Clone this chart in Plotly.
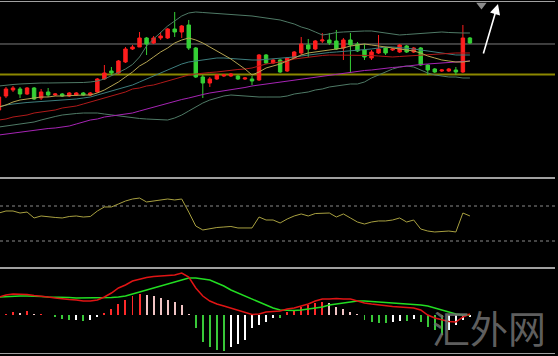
import plotly.graph_objects as go

# ---------------- data (price units) ----------------
open_ = [90,104,110,111,106,112,102,108,105,106,104,105,107,105,108,121,129,127,138,151,
         153,162,157,162,162,171,168,175,152,123,117,121,124,124,124,121,121,120,145,137,
         140,129,142,147,155,151,159,160,159,152,160,156,150,142,147,152,150,148,154,148,
         152,135,131,129,129,130,128,162]
high = [105,113,114,113,113,113,111,112,107,107,108,108,108,108,122,135,133,140,153,155,
        168,163,164,168,172,188,175,180,153,125,123,126,126,127,125,123,124,146,146,141,
        141,143,149,163,161,160,167,167,170,162,167,158,156,150,165,153,152,156,155,153,
        153,136,132,131,132,133,175,163]
low = [88,102,108,102,105,100,100,103,104,103,103,104,104,104,107,120,125,126,137,150,
       153,145,156,160,161,163,162,150,122,102,113,120,123,123,120,120,115,119,136,136,
       127,128,141,145,143,150,157,155,150,140,127,148,140,140,146,145,149,147,147,147,
       134,125,127,128,128,125,127,156]
close = [103,111,112,106,112,101,108,105,106,104,107,107,105,107,121,127,127,139,151,153,
         162,156,162,164,171,168,174,152,123,117,121,125,125,126,121,122,119,145,137,140,
         128,142,148,156,151,159,160,157,151,160,155,149,143,148,151,147,151,155,148,152,
         135,130,128,130,131,128,162,157]

bb_upper = [114,115,115.5,116,116.5,117,117,117,117,117,117,117,117.5,118,119,121,124,127.5,131,135.5,
            143,154,161,168,174,179,184,187,188,187.5,187,186.5,186,185.5,185,185,184,183,182,181,
            180,178,176,173,171,168,165,166,167.5,168,168.5,169,169,169,168,167,166,165,165.5,166,
            166.5,167,167.5,168,167.5,167,167,167]
bb_mid = [93,95,96,97,97.5,98,98.5,99,99.5,100,100,101,102,103,105,107,109,111,113,115,
          118,121,124,127,130,133,136,138,139,140,141,142,142,141.5,141,140,140,140,140.5,141,
          142,142,143,144,145,146,147,147.5,148,148.5,149,149.5,150,151,152,153,153,152.5,152,151,
          150,149,148,147,146,145,145,145]
bb_lower = [73,74,75,76,77,78,80,82,83.5,85,86,86.5,87,87,87,86,85,84,83,82,
            81.5,81,80.5,80,80,82,85,89,93,97,100,102,104,105,104.5,104,103,103,103,103,
            103,104,106,107,108,110,111,113,114,115,116,116,118,122,125,128,131,133,134,133,
            130,127,125,124,123,123,122,122]
ma_red = [80,81,83,84,85,87,88,89,90,92,93,94,96,98,100,102,104,106,108,111,
          112,114,115,117,119,121,123,125,126,127,127.5,128,129,130,130.5,131,132,134,136,137,
          138,139,141,142,143,144,144.5,145,145,145,145,145,145,144.5,144,143.5,143,143.5,144,144.5,
          145,145.5,146,146,146.5,147,147,147]
ma_purple = [65,66,67,68,69,70,71,71.5,72,73,74,76,78,80,81,83,84,85,86,87,
             89,91,93,95,97,99,100.5,102,104,105.5,107,108,109,110,111,112.5,114,115,116,117,
             118,119,120,121,122,123,124,125,126,127,128,129,129.5,130,131,132,132.5,133,134,135,
             135.5,136,136.5,137,137.5,138,138,139]
ma_yellow = [93,95,98,100,101,102,103,103,104,104,104.5,105,105,105,107,110,114,118,123,128,
             134,138,143,148,152,157,160,162,160,157,153,149,145,141,136,131,125,128,132,134,
             136,139,142,145,147,148,149,150,151,152,154,155,156,155,154,153,152,151,150,149,
             147,144,142,140,139,138,138,139]

rsi = [62,64.3,64.3,62,63.1,56.3,58.6,57.4,56.9,56.3,58,58.6,57.4,58,64.3,68.9,68.9,72.3,75.7,78,
       79.1,74.6,75.7,76.9,78,76.9,78,63.1,47.1,42.6,44.3,45.4,46,46.6,44.9,44.9,44.9,57.4,54,54,
       50.6,55.1,58.6,60.9,58.6,61.4,62,62,57.4,60.9,56.3,51.7,49.4,51.7,52.9,52.9,54,56.3,51.7,54,
       43.7,41.4,40.3,40.9,41.4,40.3,62,58.6]
rsi_levels = [70, 30]

macd_dif = [18,20,21,21,20.5,19.5,19,18,17,16,15.5,15,14,14,15,18,22,27,30,34,
            36,37.5,38.5,39,39.5,40,42,38,27,19,14,11,9,7,5,3,0.5,1,3,3.5,
            4,6,7,9,11,14,16,16,16.5,16,16,14,12,11,10,9,8.5,8,7.5,7,
            5,0,-3,-5,-6.5,-7,-2,1]
macd_dea = [18,18.5,19,19,19,19,18.5,18,18,18,17.5,17,17,17,17,17,17.5,18,19,21,
            23,25,27,29,31,33,35,37,37,36,35,32,29,25,22,19,16,13,10,7,
            5,4.5,4.5,5,6,7,8,10,11,12,13,14,14,13.5,13,13,12.5,12,11.5,11,
            10,9,7,5,3,1,0,0]
macd_hist = [0,1,3,2.5,4,1,1,0.5,-2,-4,-5,-4.5,-6,-5,-2,2,6,11,15,19,
             21,20,19,17,15,13,10,1.5,-13,-27,-32,-35,-35.5,-32,-29,-25,-13,-10,-7,-2.5,
             -3,3,5.5,8,10.5,12,13,12,8,6.5,3,0.7,-5,-6.5,-7.5,-7.5,-6.5,-5.5,-6,-3.5,
             -7,-12,-15,-20,-15,-10,-5,-2]

level_gray = 156      # horizontal price line
level_olive = 125.5   # horizontal price line
arrow_tail = (68.85, 145)
arrow_head = (70.99, 196)
marker_tri = (68.64, 195)
watermark = "汇外网"

idx = list(range(len(close)))

# ---------------- styles ----------------
RED = "#ff1e1e"
GREEN = "#35d035"
FRAME = "#a0a0a0"

# histogram colours: rising/falling above/below zero
hist_colors = []
prev = 0
for h in macd_hist:
    if h >= 0:
        hist_colors.append("#ff2a2a" if h >= prev else "#f0c4c4")
    else:
        hist_colors.append("#38c838" if h <= prev else "#ffffff")
    prev = h

fig = go.Figure()

fig.add_trace(go.Candlestick(
    x=idx, open=open_, high=high, low=low, close=close,
    increasing=dict(line=dict(color=RED, width=1), fillcolor=RED),
    decreasing=dict(line=dict(color=GREEN, width=1), fillcolor=GREEN),
    whiskerwidth=0, xaxis="x", yaxis="y", showlegend=False, hoverinfo="skip"))

def line(y, color, width=1, xa="x", ya="y"):
    fig.add_trace(go.Scatter(x=idx, y=y, mode="lines", line=dict(color=color, width=width),
                             xaxis=xa, yaxis=ya, showlegend=False, hoverinfo="skip"))

line(bb_upper, "#4f7a66")
line(bb_lower, "#4f7a66")
line(bb_mid, "#3e7e7e")
line(ma_red, "#b01a1a")
line(ma_purple, "#a624b4")
line(ma_yellow, "#b4a452")

# RSI panel
line(rsi, "#a8a040", 1, "x2", "y2")

# MACD panel
fig.add_trace(go.Bar(x=idx, y=macd_hist, marker=dict(color=hist_colors, line=dict(width=0)),
                     width=0.28, xaxis="x3", yaxis="y3", showlegend=False, hoverinfo="skip"))
line(macd_dea, "#22dd22", 1.5, "x3", "y3")
line(macd_dif, "#e01414", 1.5, "x3", "y3")

# marker triangle
fig.add_trace(go.Scatter(x=[marker_tri[0]], y=[marker_tri[1]], mode="markers",
                         marker=dict(symbol="triangle-down", size=9, color="#8c8c8c"),
                         cliponaxis=False, showlegend=False, hoverinfo="skip"))

shapes = [
    dict(type="line", xref="x domain", yref="y", x0=0, x1=1, y0=level_gray, y1=level_gray,
         line=dict(color="#7c7c7c", width=1), layer="below"),
    dict(type="line", xref="x domain", yref="y", x0=0, x1=1, y0=level_olive, y1=level_olive,
         line=dict(color="#8c8800", width=2), layer="below"),
]
for lv in rsi_levels:
    shapes.append(dict(type="line", xref="x2 domain", yref="y2", x0=0, x1=1, y0=lv, y1=lv,
                       line=dict(color="#8a8a8a", width=1, dash="dot"), layer="below"))

annotations = [
    dict(x=arrow_head[0], y=arrow_head[1], ax=arrow_tail[0], ay=arrow_tail[1],
         xref="x", yref="y", axref="x", ayref="y", text="", showarrow=True,
         arrowhead=2, arrowsize=1.3, arrowwidth=1.6, arrowcolor="#ffffff"),
    dict(x=0.877, y=0.084, xref="paper", yref="paper", xanchor="center", yanchor="middle",
         text=watermark, showarrow=False,
         font=dict(family="Noto Sans CJK SC", size=38, color="rgba(112,112,112,0.85)")),
]

XR = [0.15, 79.1]
XD = [0, 0.9946]
xcommon = dict(range=XR, domain=XD, showgrid=False, zeroline=False, showticklabels=False,
               ticks="", showline=True, mirror=True, linecolor=FRAME, linewidth=1)
ycommon = dict(showgrid=False, zeroline=False, showticklabels=False, ticks="", showline=False)

fig.update_layout(
    width=558, height=356, margin=dict(l=0, r=0, t=0, b=0),
    paper_bgcolor="#000000", plot_bgcolor="#000000",
    xaxis=dict(**xcommon, anchor="y", rangeslider=dict(visible=False)),
    yaxis=dict(**ycommon, domain=[0.5014, 0.993], range=[22.5, 197.5]),
    xaxis2=dict(**xcommon, anchor="y2", matches="x"),
    yaxis2=dict(**ycommon, domain=[0.2472, 0.5], range=[-0.86, 102]),
    xaxis3=dict(**xcommon, anchor="y3", matches="x"),
    yaxis3=dict(**ycommon, domain=[0.0084, 0.2458], range=[-38, 46.5]),
    shapes=shapes, annotations=annotations, showlegend=False, bargap=0,
)

fig.write_html(
    "out.html",
    config={"displayModeBar": False, "staticPlot": True},
    post_script="document.body.style.margin='0';document.body.style.padding='0';"
                "document.body.style.background='#000';",
)
